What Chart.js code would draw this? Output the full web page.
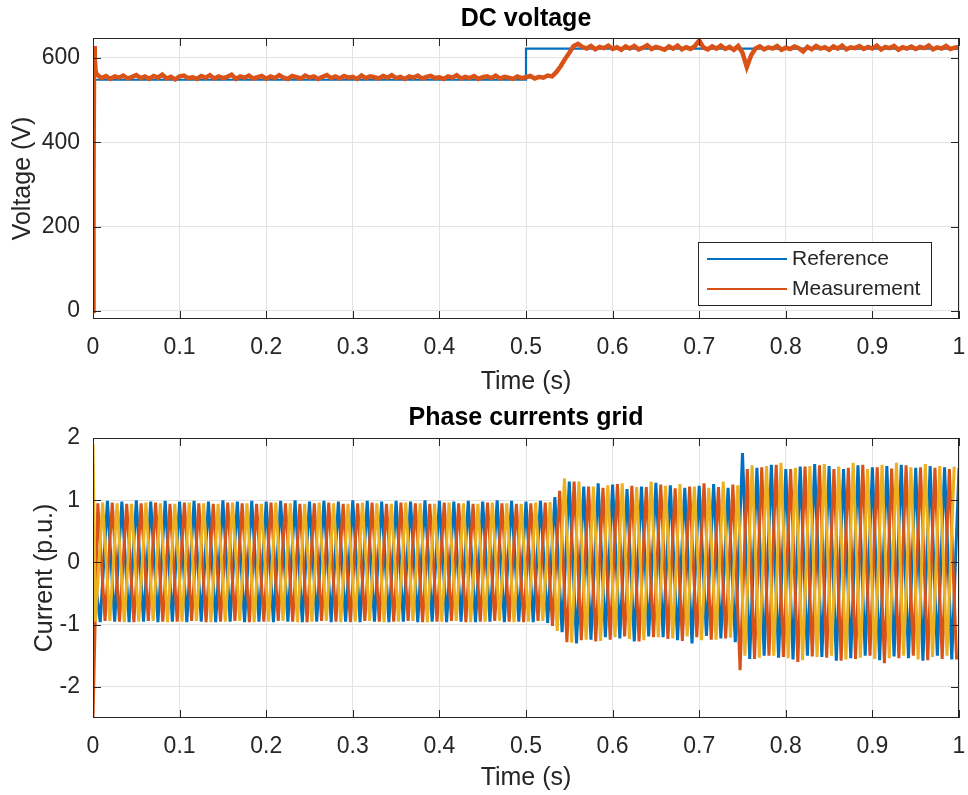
<!DOCTYPE html>
<html>
<head>
<meta charset="utf-8">
<script src="https://cdn.jsdelivr.net/npm/chart.js@4.4.1/dist/chart.umd.min.js"></script>
<style>
  html, body { margin: 0; padding: 0; background: #fff; }
  .panel { position: absolute; left: 0; width: 968px; }
</style>
</head>
<body>
<div class="panel" style="top:0;height:398px"><canvas id="dcChart" width="968" height="398"></canvas></div>
<div class="panel" style="top:398px;height:397px"><canvas id="iChart" width="968" height="397"></canvas></div>
<script>
// ---- data ----
const xTicks = [0, 0.1, 0.2, 0.3, 0.4, 0.5, 0.6, 0.7, 0.8, 0.9, 1];
const xTickLabels = ["0", "0.1", "0.2", "0.3", "0.4", "0.5", "0.6", "0.7", "0.8", "0.9", "1"];
const vTicks = [0, 200, 400, 600];
const iTicks = [-2, -1, 0, 1, 2];

// DC voltage reference (V)
const refTime = [0, 0.0005, 0.5, 0.5, 1];
const refVolt = [0, 548, 548, 622, 622];

// DC voltage measurement: start-up spike, then samples every 5 ms from t = 0.005 s
const measStartTime = [0, 0.0006, 0.0013, 0.002, 0.003, 0.004];
const measStartVolt = [0, 320, 628, 598, 570, 562];
const measStep = 0.005;
const measVolt = [
  560, 552, 557, 550, 556, 553, 558, 551, 555, 559,
  552, 556, 550, 557, 553, 560, 551, 555, 549, 556,
  558, 552, 554, 550, 557, 553, 559, 551, 556, 552,
  555, 560, 550, 556, 553, 558, 551, 554, 557, 550,
  556, 552, 559, 553, 550, 557, 554, 551, 558, 553,
  556, 550, 555, 559, 552, 556, 551, 557, 553, 555,
  550, 558, 552, 556, 554, 551, 557, 553, 559, 552,
  555, 550, 556, 553, 558, 551, 555, 557, 552, 554,
  550, 556, 553, 559, 551, 555, 552, 557, 550, 554,
  556, 552, 558, 551, 555, 553, 550, 556, 552, 554,
  557, 551, 555, 553, 558, 556, 566, 580, 597, 612,
  628, 633, 626, 622, 628, 620, 626, 623, 629, 621,
  625, 619, 627, 622, 628, 620, 624, 630, 621, 626,
  623, 619, 627, 622, 629, 620, 625, 621, 628, 641,
  624, 620, 627, 622, 629, 621, 626, 619, 628, 612,
  578, 606, 622, 627, 620, 625, 622, 628, 619, 624,
  621, 627, 623, 615, 626, 620, 628, 622, 625, 619,
  627, 622, 629, 620, 625, 623, 628, 621, 626, 622,
  629, 620, 626, 623, 628, 619, 625, 622, 627, 621,
  626, 623, 629, 620, 625, 622, 628, 621, 624, 626
];

// Phase currents (p.u.): value at t = 0, then successive peaks/troughs of each phase.
// 60 Hz grid -> one extremum of some phase every 1/360 s; each phase every third one.
const extremaStep = 1 / 360;
const startA = 0, startB = -2.5, startC = 1.9;
const offsetA = 3, offsetB = 2, offsetC = 1;
const peaksA = [
  -0.96, 0.99, -0.95, 0.98, -0.96, 1.00, -0.95, 0.98, -0.96, 0.99,
  -0.95, 0.98, -0.96, 0.99, -0.95, 0.98, -0.96, 1.00, -0.95, 0.98,
  -0.96, 0.99, -0.95, 0.98, -0.96, 0.99, -0.95, 1.00, -0.96, 0.98,
  -0.95, 0.99, -0.96, 0.98, -0.95, 1.00, -0.96, 0.99, -0.95, 0.98,
  -0.96, 0.99, -0.95, 0.98, -0.96, 1.00, -0.95, 0.99, -0.96, 0.98,
  -0.95, 0.99, -0.96, 0.98, -0.95, 1.00, -0.96, 0.99, -0.95, 0.98,
  -0.96, 0.99, -0.97, 1.05, -1.12, 1.30, -1.30, 1.22, -1.24, 1.27,
  -1.20, 1.25, -1.22, 1.18, -1.27, 1.22, -1.19, 1.28, -1.20, 1.24,
  -1.25, 1.20, -1.30, 1.23, -1.18, 1.26, -1.22, 1.20, -1.28, 1.76,
  -1.55, 1.52, -1.50, 1.57, -1.53, 1.50, -1.56, 1.54, -1.50, 1.58,
  -1.52, 1.55, -1.58, 1.50, -1.54, 1.56, -1.50, 1.53, -1.57, 1.55,
  -1.51, 1.57, -1.54, 1.52, -1.58, 1.55, -1.50, 1.53, -1.56, 1.52
];
const peaksB = [
  0.95, -0.94, 0.96, -0.95, 0.94, -0.96, 0.95, -0.94, 0.96, -0.95,
  0.94, -0.95, 0.96, -0.94, 0.95, -0.96, 0.94, -0.95, 0.96, -0.94,
  0.95, -0.96, 0.94, -0.95, 0.96, -0.94, 0.95, -0.95, 0.94, -0.96,
  0.95, -0.94, 0.96, -0.95, 0.94, -0.96, 0.95, -0.94, 0.96, -0.95,
  0.94, -0.95, 0.96, -0.94, 0.95, -0.96, 0.94, -0.95, 0.96, -0.94,
  0.95, -0.96, 0.94, -0.95, 0.96, -0.94, 0.95, -0.95, 0.94, -0.96,
  0.95, -0.94, 0.96, -1.02, 1.15, -1.28, 1.30, -1.25, 1.22, -1.27,
  1.20, -1.24, 1.26, -1.19, 1.23, -1.27, 1.21, -1.20, 1.25, -1.23,
  1.19, -1.26, 1.22, -1.20, 1.27, -1.24, 1.21, -1.22, 1.25, -1.73,
  1.50, -1.55, 1.53, -1.50, 1.57, -1.52, 1.50, -1.60, 1.54, -1.51,
  1.56, -1.53, 1.50, -1.58, 1.52, -1.55, 1.57, -1.50, 1.53, -1.62,
  1.51, -1.54, 1.56, -1.50, 1.53, -1.57, 1.52, -1.55, 1.50, -1.56
];
const peaksC = [
  -0.95, 0.96, -0.94, 0.95, -0.96, 0.94, -0.95, 0.96, -0.94, 0.95,
  -0.96, 0.94, -0.95, 0.96, -0.94, 0.95, -0.96, 0.94, -0.95, 0.96,
  -0.94, 0.95, -0.96, 0.94, -0.95, 0.96, -0.94, 0.95, -0.96, 0.94,
  -0.95, 0.96, -0.94, 0.95, -0.96, 0.94, -0.95, 0.96, -0.94, 0.95,
  -0.96, 0.94, -0.95, 0.96, -0.94, 0.95, -0.96, 0.94, -0.95, 0.96,
  -0.94, 0.95, -0.96, 0.94, -0.95, 0.96, -0.94, 0.95, -0.96, 0.94,
  -0.95, 0.96, -0.94, 0.97, -1.10, 1.35, -1.29, 1.30, -1.24, 1.22,
  -1.26, 1.24, -1.20, 1.27, -1.23, 1.21, -1.25, 1.30, -1.20, 1.23,
  -1.22, 1.26, -1.19, 1.22, -1.25, 1.20, -1.24, 1.30, -1.21, 1.24,
  -1.50, 1.56, -1.53, 1.55, -1.50, 1.60, -1.54, 1.52, -1.57, 1.55,
  -1.52, 1.58, -1.50, 1.54, -1.56, 1.60, -1.53, 1.50, -1.55, 1.57,
  -1.54, 1.60, -1.50, 1.53, -1.56, 1.58, -1.52, 1.55, -1.50, 1.54
];

// ---- styling ----
const BLUE = '#0072BD', ORANGE = '#D95319', YELLOW = '#EDB120';
const AXIS = '#262626', GRID = '#e3e3e3';
Chart.defaults.font.family = '"Liberation Sans", Arial, Helvetica, sans-serif';
Chart.defaults.color = AXIS;

function phasePoints(start, offset, peaks) {
  const pts = [{ x: 0, y: start }];
  peaks.forEach((v, j) => pts.push({ x: (offset + 3 * j) * extremaStep, y: v }));
  return pts;
}
const refPoints = refTime.map((t, i) => ({ x: t, y: refVolt[i] }));
const measPoints = measStartTime.map((t, i) => ({ x: t, y: measStartVolt[i] }))
  .concat(measVolt.map((v, k) => ({ x: (k + 1) * measStep, y: v })));

// axes box with inward ticks, MATLAB style
const framePlugin = {
  id: 'frame',
  afterDatasetsDraw(chart) {
    const { ctx, chartArea: a, scales: { x, y } } = chart;
    ctx.save();
    ctx.strokeStyle = AXIS;
    ctx.lineWidth = 1;
    ctx.strokeRect(a.left + 0.5, a.top + 0.5, a.width - 1, a.height - 1);
    ctx.beginPath();
    x.ticks.forEach(t => {
      const px = Math.round(x.getPixelForValue(t.value)) + 0.5;
      ctx.moveTo(px, a.top); ctx.lineTo(px, a.top + 8);
      ctx.moveTo(px, a.bottom); ctx.lineTo(px, a.bottom - 8);
    });
    y.ticks.forEach(t => {
      const py = Math.round(y.getPixelForValue(t.value)) + 0.5;
      ctx.moveTo(a.left, py); ctx.lineTo(a.left + 8, py);
      ctx.moveTo(a.right, py); ctx.lineTo(a.right - 8, py);
    });
    ctx.stroke();
    ctx.restore();
  }
};

// legend box drawn inside the axes (lower right)
const insideLegend = {
  id: 'insideLegend',
  afterDraw(chart) {
    const { ctx, chartArea: a } = chart;
    const w = 233, h = 63;
    const bx = a.right - 28 - w, by = a.bottom - 14 - h;
    ctx.save();
    ctx.fillStyle = '#fff';
    ctx.fillRect(bx, by, w, h);
    ctx.strokeStyle = AXIS;
    ctx.lineWidth = 1;
    ctx.strokeRect(Math.round(bx) + 0.5, Math.round(by) + 0.5, w, h);
    ctx.font = '21px ' + Chart.defaults.font.family;
    ctx.textBaseline = 'middle';
    chart.data.datasets.forEach((ds, i) => {
      const ly = by + 17 + i * 30;
      ctx.strokeStyle = ds.borderColor;
      ctx.lineWidth = 2;
      ctx.beginPath();
      ctx.moveTo(bx + 9, ly); ctx.lineTo(bx + 89, ly);
      ctx.stroke();
      ctx.fillStyle = AXIS;
      ctx.fillText(ds.label, bx + 94, ly);
    });
    ctx.restore();
  }
};

function xScale(height, titleBottom) {
  return {
    type: 'linear', min: 0, max: 1,
    afterBuildTicks: s => { s.ticks = xTicks.map(v => ({ value: v })); },
    afterFit: s => { s.height = height; s.paddingLeft = 0; s.paddingRight = 0; },
    grid: { color: GRID, drawTicks: false },
    border: { display: false },
    ticks: { font: { size: 23 }, padding: 15, maxRotation: 0, autoSkip: false,
             callback: (v, i) => xTickLabels[i] },
    title: { display: true, text: 'Time (s)', font: { size: 25 }, color: AXIS,
             padding: { top: 0, bottom: titleBottom } }
  };
}
function yScale(min, max, ticks, label, titlePad) {
  return {
    min, max,
    afterBuildTicks: s => { s.ticks = ticks.map(v => ({ value: v })); },
    afterFit: s => { s.width = 93; },
    grid: { color: GRID, drawTicks: false },
    border: { display: false },
    ticks: { font: { size: 23 }, padding: 13 },
    title: { display: true, text: label, font: { size: 25 }, color: AXIS,
             padding: { top: titlePad, bottom: 0 } }
  };
}

new Chart('dcChart', {
  type: 'line',
  data: {
    datasets: [
      { label: 'Reference', data: refPoints, borderColor: BLUE, borderWidth: 2.2, order: 1 },
      { label: 'Measurement', data: measPoints, borderColor: ORANGE, borderWidth: 4.5, order: 0 }
    ]
  },
  options: {
    responsive: false, animation: false, devicePixelRatio: 1,
    elements: { point: { radius: 0 }, line: { tension: 0 } },
    layout: { padding: { left: 0, right: 9, top: 0, bottom: 0 } },
    scales: { x: xScale(79, 1), y: yScale(-19, 647, vTicks, 'Voltage (V)', 8) },
    plugins: {
      legend: { display: false },
      tooltip: { enabled: false },
      title: { display: true, text: 'DC voltage', fullSize: false, color: '#000',
               font: { size: 25, weight: 'bold' }, padding: { top: 4, bottom: 4 } }
    }
  },
  plugins: [framePlugin, insideLegend]
});

new Chart('iChart', {
  type: 'line',
  data: {
    datasets: [
      { label: 'i_a', data: phasePoints(startA, offsetA, peaksA), borderColor: BLUE, borderWidth: 3, order: 2 },
      { label: 'i_b', data: phasePoints(startB, offsetB, peaksB), borderColor: ORANGE, borderWidth: 3, order: 1 },
      { label: 'i_c', data: phasePoints(startC, offsetC, peaksC), borderColor: YELLOW, borderWidth: 3, order: 0 }
    ]
  },
  options: {
    responsive: false, animation: false, devicePixelRatio: 1,
    elements: { point: { radius: 0 }, line: { tension: 0 } },
    layout: { padding: { left: 0, right: 9, top: 0, bottom: 0 } },
    scales: { x: xScale(77, 2), y: yScale(-2.5, 2, iTicks, 'Current (p.u.)', 30) },
    plugins: {
      legend: { display: false },
      tooltip: { enabled: false },
      title: { display: true, text: 'Phase currents grid', fullSize: false, color: '#000',
               font: { size: 25, weight: 'bold' }, padding: { top: 5, bottom: 5 } }
    }
  },
  plugins: [framePlugin]
});
</script>
</body>
</html>
